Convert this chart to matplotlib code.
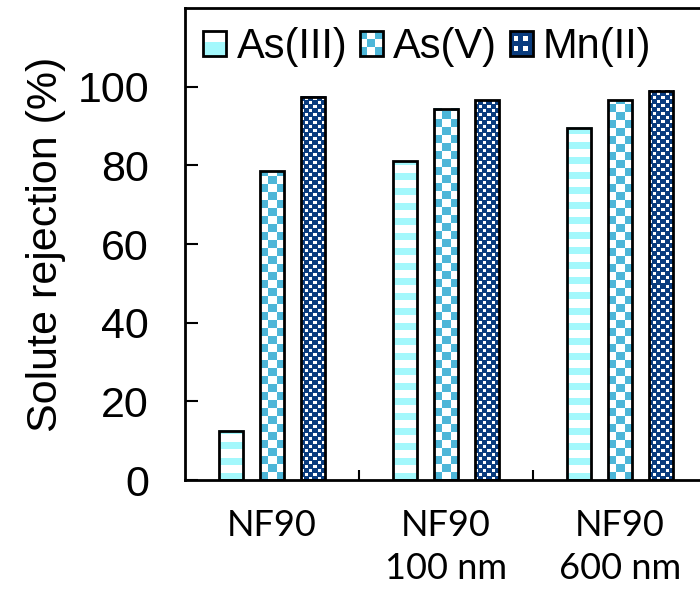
import numpy as np
import matplotlib
matplotlib.use("Agg")
import matplotlib.pyplot as plt
from matplotlib.patches import Rectangle
from matplotlib.legend_handler import HandlerBase

# Data
groups = ["NF90", "NF90\n100 nm", "NF90\n600 nm"]
series = ["As(III)", "As(V)", "Mn(II)"]
as3 = [12.5, 81.0, 89.6]
as5 = [78.5, 94.4, 96.5]
mn2 = [97.5, 96.5, 99.0]

cyan = "#A3F8FC"
blue = "#4DB6D8"
navy = "#0A3C7E"

plt.rcParams['font.family'] = ['Liberation Sans', 'DejaVu Sans']


def texture(kind, ny, nx):
    r, c = np.mgrid[0:ny, 0:nx]
    img = np.ones((ny, nx, 3))
    if kind == "stripes":
        mask = (r % 15) < 7
        img[mask] = matplotlib.colors.to_rgb(cyan)
    elif kind == "checker":
        mask = ((r // 8) + (c // 8)) % 2 == 0
        img[mask] = matplotlib.colors.to_rgb(blue)
    else:
        img[:] = matplotlib.colors.to_rgb(navy)
        a = ((r % 8) < 3) & ((c % 8) < 3)
        b = (((r + 4) % 8) < 3) & (((c + 4) % 8) < 3)
        img[a | b] = 1.0
    return img


class PatternHandler(HandlerBase):
    def create_artists(self, legend, orig_handle, xdescent, ydescent,
                       width, height, fontsize, trans):
        kind = orig_handle
        x0, y0 = -xdescent, -ydescent
        arts = []
        if kind == "stripes":
            arts.append(Rectangle((x0, y0), width, height, fc="white", lw=0, transform=trans))
            arts.append(Rectangle((x0, y0), width, height * 0.55, fc=cyan, lw=0, transform=trans))
        elif kind == "checker":
            n = 3
            for i in range(n):
                for j in range(n):
                    col = blue if (i + j) % 2 == 0 else "white"
                    arts.append(Rectangle((x0 + j * width / n, y0 + i * height / n),
                                          width / n, height / n, fc=col, lw=0, transform=trans))
        else:
            arts.append(Rectangle((x0, y0), width, height, fc=navy, lw=0, transform=trans))
            for (fx, fy) in [(0.2, 0.2), (0.6, 0.6), (0.2, 0.6), (0.6, 0.2)]:
                arts.append(Rectangle((x0 + fx * width, y0 + fy * height), width * 0.18,
                                      height * 0.18, fc="white", lw=0, transform=trans))
        arts.append(Rectangle((x0, y0), width, height, fc="none", ec="black", lw=2,
                              transform=trans))
        return arts


fig = plt.figure(figsize=(7, 5.94), dpi=100)
ax = fig.add_axes([185 / 700, 114 / 594, 522 / 700, 472 / 594])

x = np.arange(len(groups))
w = 0.138
step = 0.236
kinds = ["stripes", "checker", "dots"]
ax.set_xlim(-0.5, 2.5)
ax.set_ylim(0, 120)

bars = []
for k, vals in enumerate([as3, as5, mn2]):
    b = ax.bar(x + (k - 1) * step, vals, w, facecolor="none", edgecolor="black",
               linewidth=2, zorder=3)
    bars.append(b)

# pixel scale for textures
bb = ax.get_position()
ppx = bb.width * 700 / 3.0
ppy = bb.height * 594 / 120.0
for k, b in enumerate(bars):
    for p in b.patches:
        x0, wd, ht = p.get_x(), p.get_width(), p.get_height()
        nx = max(1, int(round(wd * ppx)))
        ny = max(1, int(round(ht * ppy)))
        ax.imshow(texture(kinds[k], ny, nx), extent=(x0, x0 + wd, 0, ht),
                  origin="lower", interpolation="nearest", aspect="auto", zorder=2)
ax.set_xlim(-0.5, 2.5)
ax.set_ylim(0, 120)

ax.set_yticks([0, 20, 40, 60, 80, 100])
ax.tick_params(axis="y", direction="in", length=9, width=1.5, pad=26, labelsize=31)
ax.set_xticks(x)
ax.set_xticklabels(groups, fontfamily="Lato", fontsize=26, linespacing=1.38)
ax.tick_params(axis="x", length=0, pad=21)
ax.set_xticks([0.5, 1.5], minor=True)
ax.tick_params(axis="x", which="minor", direction="in", length=7, width=1.5)
ax.set_ylabel("Solute rejection (%)", fontsize=31, labelpad=8)
for s in ax.spines.values():
    s.set_linewidth(2)

ax.legend(kinds, series, handler_map={str: PatternHandler()}, loc="upper left",
          bbox_to_anchor=(0.035, 0.96), ncol=3, frameon=False, fontsize=30,
          handlelength=0.55, handleheight=0.55, handletextpad=0.25,
          columnspacing=0.3, borderpad=0, borderaxespad=0)

fig.savefig("out.png", dpi=100)
